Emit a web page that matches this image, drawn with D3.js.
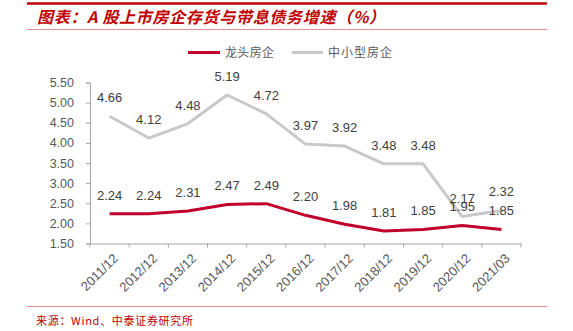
<!DOCTYPE html>
<html><head><meta charset="utf-8">
<script src="https://cdn.jsdelivr.net/npm/d3@7/dist/d3.min.js"></script>
<style>body{margin:0;background:#fff;}svg{display:block;}</style>
</head><body>
<script>
const categories = ["2011/12","2012/12","2013/12","2014/12","2015/12","2016/12","2017/12","2018/12","2019/12","2020/12","2021/03"];
const leaderValues = [2.24,2.24,2.31,2.47,2.49,2.20,1.98,1.81,1.85,1.95,1.85];
const smallMidValues = [4.66,4.12,4.48,5.19,4.72,3.97,3.92,3.48,3.48,2.17,2.32];
const yTicks = [1.5,2.0,2.5,3.0,3.5,4.0,4.5,5.0,5.5];
const seriesNames = ["龙头房企","中小型房企"];
const titleText = "图表：A 股上市房企存货与带息债务增速（%）";
const sourceText = "来源：Wind、中泰证券研究所";

const W = 573, H = 331;
const svg = d3.select("body").append("svg").attr("width", W).attr("height", H);
const RED = "#C0002A", GRAY = "#C9C9C9";

// header rules
svg.append("line").attr("x1",27).attr("x2",547).attr("y1",3.5).attr("y2",3.5).attr("stroke","#C00000").attr("stroke-width",2.5);
svg.append("line").attr("x1",27).attr("x2",547).attr("y1",29.5).attr("y2",29.5).attr("stroke","#E89090").attr("stroke-width",1);
svg.append("text").attr("x",37).attr("y",23).attr("fill","#C00000")
  .attr("font-family","'Noto Sans CJK SC', sans-serif").attr("font-size",16).attr("font-weight","bold").attr("font-style","italic")
  .attr("textLength",348).attr("lengthAdjust","spacing").text(titleText);

// footer
svg.append("line").attr("x1",27).attr("x2",547).attr("y1",306.5).attr("y2",306.5).attr("stroke","#E89090").attr("stroke-width",1);
svg.append("text").attr("x",36).attr("y",325).attr("fill","#C00000")
  .attr("font-family","'Noto Sans CJK SC', 'DejaVu Sans Mono', monospace").attr("font-size",11)
  .attr("textLength",157).attr("lengthAdjust","spacing").text(sourceText);

// scales
const x = d3.scaleBand().domain(categories).range([90,521]);
const y = d3.scaleLinear().domain([1.5,5.5]).range([243.5,82.5]);

// y axis
const yAxis = svg.append("g").attr("transform","translate(90,0)")
  .call(d3.axisLeft(y).tickValues(yTicks).tickFormat(d3.format(".2f")).tickSize(4).tickPadding(12));
yAxis.select(".domain").attr("stroke","#A6A6A6");
yAxis.selectAll(".tick line").attr("stroke","#A6A6A6");
yAxis.selectAll("text").attr("fill","#595959").attr("font-family","'Liberation Sans', Arial, sans-serif").attr("font-size",12.5);

// x axis
const xAxis = svg.append("g").attr("transform","translate(0,243.5)")
  .call(d3.axisBottom(x).tickSize(0).tickFormat(""));
xAxis.select(".domain").attr("stroke","#A6A6A6");
const tickPos = categories.map(c => x(c)).concat([x.range()[1]]);
xAxis.selectAll(".bt").data(tickPos).enter().append("line").attr("class","bt")
  .attr("x1",d=>d).attr("x2",d=>d).attr("y1",0).attr("y2",4).attr("stroke","#A6A6A6");
svg.append("g").selectAll("text").data(categories).enter().append("text")
  .attr("transform", d => `translate(${x(d)+x.bandwidth()/2+6},${256}) rotate(-45)`)
  .attr("text-anchor","end").attr("dy","0.35em")
  .attr("fill","#595959").attr("font-family","'Liberation Sans', Arial, sans-serif").attr("font-size",13)
  .text(d=>d);

// lines
const line = d3.line().x((d,i)=>x(categories[i])+x.bandwidth()/2).y(d=>y(d));
svg.append("path").datum(smallMidValues).attr("d",line).attr("fill","none").attr("stroke",GRAY).attr("stroke-width",3).attr("stroke-linejoin","round");
svg.append("path").datum(leaderValues).attr("d",line).attr("fill","none").attr("stroke",RED).attr("stroke-width",3).attr("stroke-linejoin","round");

// labels
function labels(vals){
  svg.append("g").selectAll("text").data(vals).enter().append("text")
    .attr("x",(d,i)=>x(categories[i])+x.bandwidth()/2).attr("y",d=>y(d)-14)
    .attr("text-anchor","middle").attr("fill","#404040")
    .attr("font-family","'Liberation Sans', Arial, sans-serif").attr("font-size",13)
    .text(d=>d.toFixed(2));
}
labels(smallMidValues);
labels(leaderValues);

// legend
const lg = svg.append("g").attr("font-family","'Noto Sans CJK SC', sans-serif").attr("font-size",12).attr("fill","#595959");
lg.append("line").attr("x1",188).attr("x2",220).attr("y1",52.5).attr("y2",52.5).attr("stroke",RED).attr("stroke-width",3);
lg.append("text").attr("x",225).attr("y",57).attr("textLength",49).attr("lengthAdjust","spacing").text(seriesNames[0]);
lg.append("line").attr("x1",292).attr("x2",323).attr("y1",52.5).attr("y2",52.5).attr("stroke",GRAY).attr("stroke-width",3);
lg.append("text").attr("x",328).attr("y",57).attr("textLength",64).attr("lengthAdjust","spacing").text(seriesNames[1]);
</script>
</body></html>
